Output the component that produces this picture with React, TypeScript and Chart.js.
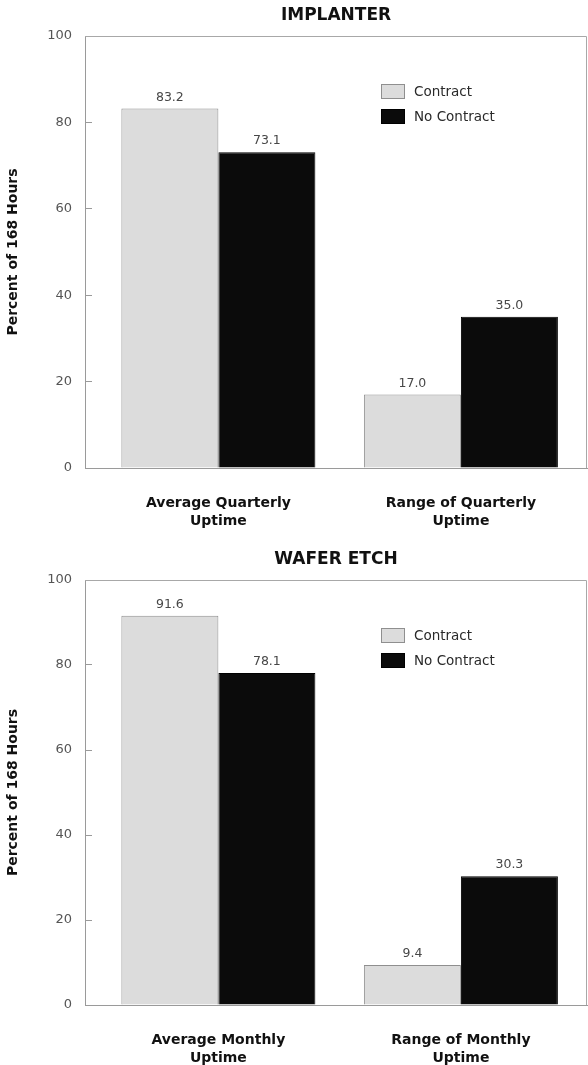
import React, { useEffect, useRef } from 'react';
import { Chart, registerables } from 'chart.js';

Chart.register(...registerables);

// ---------- data ----------
const seriesLabels = ['Contract', 'No Contract'];
const seriesFill = ['#dcdcdc', '#0b0b0b'];
const seriesBorder = ['#8f8f8f', '#000000'];

const implanterTitle = 'IMPLANTER';
const implanterCategories = [
  ['Average Quarterly', 'Uptime'],
  ['Range of Quarterly', 'Uptime'],
];
const implanterContract = [83.2, 17.0];
const implanterNoContract = [73.1, 35.0];

const etchTitle = 'WAFER ETCH';
const etchCategories = [
  ['Average Monthly', 'Uptime'],
  ['Range of Monthly', 'Uptime'],
];
const etchContract = [91.6, 9.4];
const etchNoContract = [78.1, 30.3];

const yTickValues = [0, 20, 40, 60, 80, 100];
const yAxisTitle = 'Percent of 168 Hours';

const FONT = '"DejaVu Sans", "Liberation Sans", Arial, sans-serif';

// ---------- plugins ----------
const framePlugin = {
  id: 'frameLines',
  afterDatasetsDraw(chart: any) {
    const { ctx, chartArea } = chart;
    ctx.save();
    ctx.strokeStyle = '#a8a8a8';
    ctx.lineWidth = 1;
    ctx.beginPath();
    ctx.moveTo(chartArea.left, Math.round(chartArea.top) + 0.5);
    ctx.lineTo(Math.round(chartArea.right) - 0.5, Math.round(chartArea.top) + 0.5);
    ctx.lineTo(Math.round(chartArea.right) - 0.5, chartArea.bottom);
    ctx.stroke();
    ctx.restore();
  },
};

const valueLabelPlugin = {
  id: 'valueLabels',
  afterDatasetsDraw(chart: any) {
    const { ctx } = chart;
    ctx.save();
    ctx.font = `12.5px ${FONT}`;
    ctx.fillStyle = '#474747';
    ctx.textAlign = 'center';
    ctx.textBaseline = 'middle';
    chart.data.datasets.forEach((ds: any, di: number) => {
      chart.getDatasetMeta(di).data.forEach((el: any, i: number) => {
        const v = ds.data[i].y as number;
        ctx.fillText(v.toFixed(1), el.x, el.y - 11);
      });
    });
    ctx.restore();
  },
};

const boxLegendPlugin = {
  id: 'boxLegend',
  afterDraw(chart: any) {
    const { ctx, chartArea } = chart;
    const x = Math.round(chartArea.left + 296);
    let y = Math.round(chartArea.top + 48);
    ctx.save();
    ctx.font = `13.5px ${FONT}`;
    ctx.textBaseline = 'middle';
    ctx.textAlign = 'left';
    chart.data.datasets.forEach((ds: any) => {
      ctx.fillStyle = ds.backgroundColor;
      ctx.fillRect(x, y, 24, 15);
      ctx.strokeStyle = ds.borderColor;
      ctx.lineWidth = 1;
      ctx.strokeRect(x + 0.5, y + 0.5, 23, 14);
      ctx.fillStyle = '#2a2a2a';
      ctx.fillText(ds.label, x + 33, y + 8);
      y += 25;
    });
    ctx.restore();
  },
};

function makeConfig(
  title: string,
  categories: string[][],
  contract: number[],
  noContract: number[],
  titlePadTop: number,
  titleBoxHeight: number,
  xAxisHeight: number
): any {
  const values = [contract, noContract];
  return {
    type: 'bar',
    data: {
      datasets: seriesLabels.map((label, s) => ({
        label,
        data: values[s].map((v, i) => ({ x: i, y: v })),
        backgroundColor: seriesFill[s],
        borderColor: seriesBorder[s],
        borderWidth: 1,
        borderSkipped: 'start',
        categoryPercentage: 0.8,
        barPercentage: 1.0,
      })),
    },
    options: {
      responsive: false,
      animation: false,
      layout: { padding: { left: 0, right: 1, top: 0, bottom: 0 } },
      plugins: {
        legend: { display: false },
        tooltip: { enabled: false },
        title: {
          display: true,
          text: title,
          fullSize: false,
          color: '#111',
          font: { family: FONT, size: 17, weight: 'bold', lineHeight: 1.2 },
          padding: { top: titlePadTop, bottom: titleBoxHeight - titlePadTop - 20.4 },
        },
      },
      scales: {
        x: {
          type: 'linear',
          offset: false,
          min: -0.55,
          max: 1.52,
          grid: { display: false, drawTicks: false, offset: false },
          border: { display: true, color: '#9a9a9a', width: 1 },
          afterBuildTicks: (scale: any) => {
            scale.ticks = categories.map((_, i) => ({ value: i }));
          },
          afterFit: (scale: any) => {
            scale.height = xAxisHeight;
          },
          ticks: {
            autoSkip: false,
            maxRotation: 0,
            padding: 26,
            color: '#111',
            font: { family: FONT, size: 14, weight: 'bold', lineHeight: 1.3 },
            callback: (v: any) => categories[Math.round(Number(v))] ?? '',
          },
        },
        y: {
          type: 'linear',
          min: 0,
          max: 100,
          grid: { display: true, drawOnChartArea: false, drawTicks: true, tickLength: -7, color: '#9a9a9a' },
          border: { display: true, color: '#9a9a9a', width: 1 },
          afterBuildTicks: (scale: any) => {
            scale.ticks = yTickValues.map((v) => ({ value: v }));
          },
          afterFit: (scale: any) => {
            scale.width = 85;
          },
          ticks: {
            padding: 20,
            color: '#555',
            font: { family: FONT, size: 13 },
          },
          title: {
            display: true,
            text: yAxisTitle,
            color: '#111',
            padding: { top: 5, bottom: 0 },
            font: { family: FONT, size: 14, weight: 'bold', lineHeight: 1.2 },
          },
        },
      },
    },
    plugins: [framePlugin, valueLabelPlugin, boxLegendPlugin],
  };
}

function BarPanel(props: {
  title: string;
  categories: string[][];
  contract: number[];
  noContract: number[];
  height: number;
  titlePadTop: number;
  titleBoxHeight: number;
  xAxisHeight: number;
}) {
  const ref = useRef<HTMLCanvasElement | null>(null);
  useEffect(() => {
    if (!ref.current) return;
    const chart = new Chart(
      ref.current,
      makeConfig(
        props.title,
        props.categories,
        props.contract,
        props.noContract,
        props.titlePadTop,
        props.titleBoxHeight,
        props.xAxisHeight
      )
    );
    return () => chart.destroy();
  }, []);
  return (
    <canvas
      ref={ref}
      width={588}
      height={props.height}
      style={{ display: 'block', width: 588, height: props.height }}
    />
  );
}

export default function App() {
  return (
    <div style={{ position: 'absolute', left: 0, top: 0, width: 588, height: 1065, background: '#fff' }}>
      <BarPanel
        title={implanterTitle}
        categories={implanterCategories}
        contract={implanterContract}
        noContract={implanterNoContract}
        height={540}
        titlePadTop={5}
        titleBoxHeight={36}
        xAxisHeight={72}
      />
      <BarPanel
        title={etchTitle}
        categories={etchCategories}
        contract={etchContract}
        noContract={etchNoContract}
        height={525}
        titlePadTop={9}
        titleBoxHeight={40}
        xAxisHeight={60}
      />
    </div>
  );
}
